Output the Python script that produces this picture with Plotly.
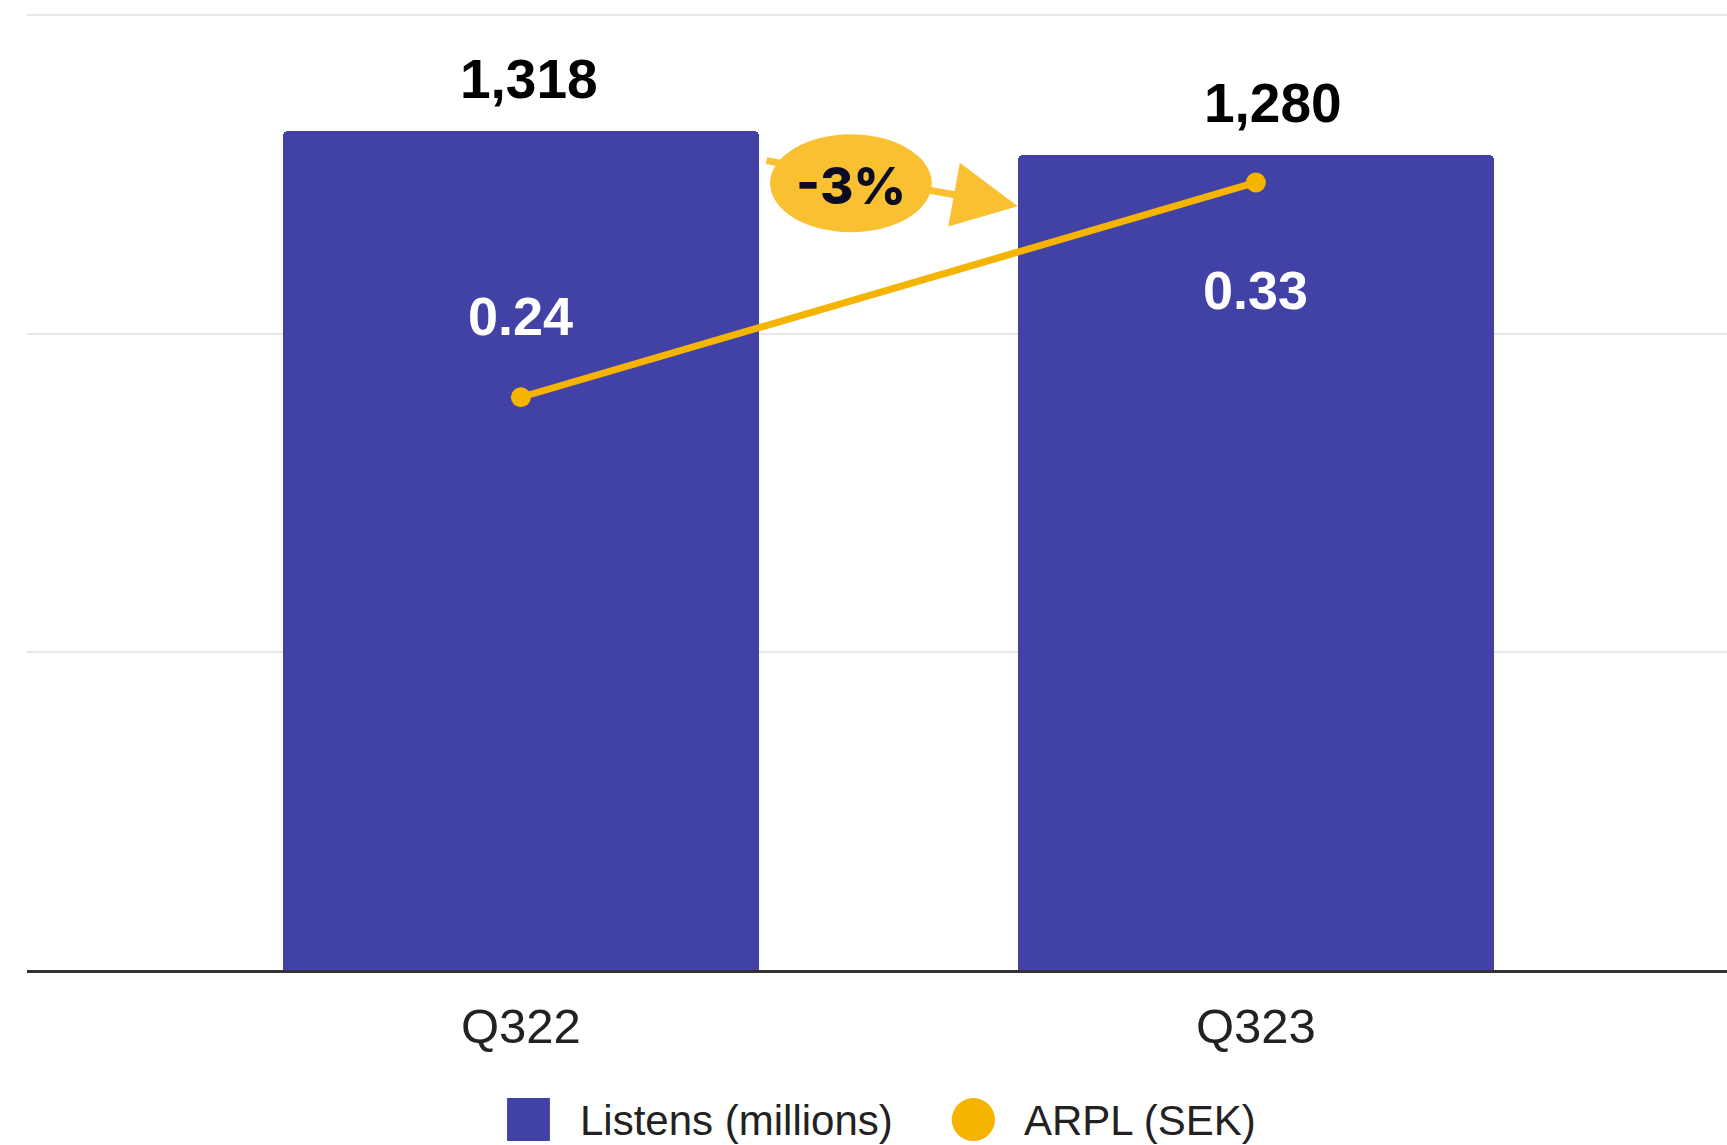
import plotly.graph_objects as go

# Quarterly data
quarters = ["Q322", "Q323"]
listens_millions = [1318, 1280]
arpl_sek = [0.24, 0.33]
change_label = "-3%"

# Offsets (px) for the value labels
listens_label_xshift = [8, 17]
arpl_label_yshift = [81, -108]

BAR_COLOR = "#4241A6"
LINE_COLOR = "#F4B400"
BADGE_COLOR = "#F9C132"
FONT = "Liberation Sans, Arial, sans-serif"

fig = go.Figure()

fig.add_trace(go.Bar(
    x=quarters,
    y=listens_millions,
    name="Listens (millions)",
    marker=dict(color=BAR_COLOR, cornerradius=5, line=dict(width=0)),
    width=0.648,
    yaxis="y",
    hoverinfo="skip",
))

fig.add_trace(go.Scatter(
    x=quarters,
    y=arpl_sek,
    name="ARPL (SEK)",
    mode="lines+markers",
    line=dict(color=LINE_COLOR, width=7),
    marker=dict(color=LINE_COLOR, size=20),
    yaxis="y2",
    hoverinfo="skip",
))

annotations = []

# Totals above the bars
for i, v in enumerate(listens_millions):
    annotations.append(dict(
        x=i, y=v, xref="x", yref="y",
        text=f"<b>{v:,}</b>", showarrow=False,
        font=dict(family=FONT, size=55, color="#000000"),
        xanchor="center", yanchor="middle",
        xshift=listens_label_xshift[i], yshift=52,
    ))

# ARPL values inside the bars
for i, v in enumerate(arpl_sek):
    annotations.append(dict(
        x=i, y=v, xref="x", yref="y2",
        text=f"<b>{v:.2f}</b>", showarrow=False,
        font=dict(family=FONT, size=54, color="#FFFFFF"),
        xanchor="center", yanchor="middle",
        yshift=arpl_label_yshift[i],
    ))

# Change arrow between the bars
annotations.append(dict(
    x=0.676, y=1200, xref="x", yref="y",
    ax=0.332, ay=1272, axref="x", ayref="y",
    text="", showarrow=True,
    arrowhead=2, arrowsize=1.85, arrowwidth=7, arrowcolor=BADGE_COLOR,
    standoff=0, startstandoff=0,
))
annotations.append(dict(
    x=0.449, y=1233, xref="x", yref="y",
    text=change_label, showarrow=False,
    font=dict(family="Inter, Lato, sans-serif", size=51, color="#0B0B24", weight=800),
    xanchor="center", yanchor="middle",
))

# Legend labels
annotations.append(dict(
    x=0.324, y=-0.157, xref="paper", yref="paper",
    text="Listens (millions)", showarrow=False,
    font=dict(family=FONT, size=42, color="#222222"),
    xanchor="left", yanchor="middle",
))
annotations.append(dict(
    x=0.585, y=-0.157, xref="paper", yref="paper",
    text="ARPL (SEK)", showarrow=False,
    font=dict(family=FONT, size=42, color="#222222"),
    xanchor="left", yanchor="middle",
))

shapes = [
    # change badge
    dict(type="circle", xref="x", yref="y",
         x0=0.339, x1=0.559, y0=1159, y1=1313,
         fillcolor=BADGE_COLOR, line=dict(width=0), layer="above"),
    # legend swatches
    dict(type="rect", xref="paper", yref="paper",
         x0=0.2824, x1=0.3076, y0=-0.179, y1=-0.134,
         fillcolor=BAR_COLOR, line=dict(width=0)),
    dict(type="circle", xref="paper", yref="paper",
         x0=0.544, x1=0.5694, y0=-0.179, y1=-0.134,
         fillcolor=LINE_COLOR, line=dict(width=0)),
]

fig.update_layout(
    width=1727, height=1145,
    margin=dict(l=27, r=0, t=14, b=175),
    paper_bgcolor="white", plot_bgcolor="white",
    showlegend=False,
    bargap=0,
    font=dict(family=FONT, color="#222222"),
    xaxis=dict(
        type="category",
        range=[-0.672, 1.641],
        showgrid=False, zeroline=False,
        showline=True, linecolor="#333333", linewidth=3,
        ticks="", ticklabelstandoff=11,
        tickfont=dict(family=FONT, size=49, color="#222222"),
        fixedrange=True,
    ),
    yaxis=dict(
        range=[0, 1502],
        tickvals=[0, 500, 1000, 1500],
        showticklabels=False,
        showgrid=True, gridcolor="#E8E8E8", gridwidth=2,
        zeroline=False, showline=False, ticks="",
    ),
    yaxis2=dict(
        range=[0, 0.4006],
        overlaying="y", side="right",
        showgrid=False, zeroline=False, showline=False,
        showticklabels=False, ticks="",
    ),
    annotations=annotations,
    shapes=shapes,
)

fig.write_html("out.html")
